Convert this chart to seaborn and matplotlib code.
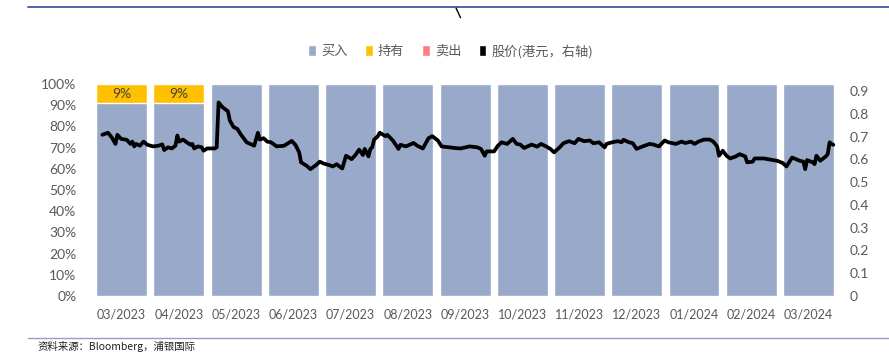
import pandas as pd
import seaborn as sns
import matplotlib.pyplot as plt
from matplotlib.patches import Patch
from matplotlib.lines import Line2D

sns.set_theme(style="white")
plt.rcParams['font.family'] = ['Lato', 'Noto Sans CJK SC', 'DejaVu Sans']

# Rating mix per month
months = ["03/2023", "04/2023", "05/2023", "06/2023", "07/2023", "08/2023", "09/2023",
          "10/2023", "11/2023", "12/2023", "01/2024", "02/2024", "03/2024"]
buy = [0.91, 0.91, 1, 1, 1, 1, 1, 1, 1, 1, 1, 1, 1]
hold = [0.09, 0.09, 0, 0, 0, 0, 0, 0, 0, 0, 0, 0, 0]
sell = [0, 0, 0, 0, 0, 0, 0, 0, 0, 0, 0, 0, 0]

# Share price (HKD)
price_dates = [
    "2023-03-06", "2023-03-09", "2023-03-11", "2023-03-13", "2023-03-14", "2023-03-16", "2023-03-19",
    "2023-03-21", "2023-03-22", "2023-03-23", "2023-03-24", "2023-03-26", "2023-03-28", "2023-03-30",
    "2023-04-02", "2023-04-05", "2023-04-07", "2023-04-08", "2023-04-10", "2023-04-12", "2023-04-14",
    "2023-04-15", "2023-04-16", "2023-04-18", "2023-04-20", "2023-04-22", "2023-04-23", "2023-04-24",
    "2023-04-26", "2023-04-28", "2023-04-29", "2023-05-01", "2023-05-05", "2023-05-06", "2023-05-07",
    "2023-05-09", "2023-05-12", "2023-05-13", "2023-05-15", "2023-05-17", "2023-05-19", "2023-05-22",
    "2023-05-25", "2023-05-26", "2023-05-28", "2023-05-29", "2023-05-31", "2023-06-02", "2023-06-04",
    "2023-06-07", "2023-06-11", "2023-06-15", "2023-06-17", "2023-06-19", "2023-06-20", "2023-06-23",
    "2023-06-25", "2023-06-28", "2023-06-30", "2023-07-02", "2023-07-05", "2023-07-07", "2023-07-09",
    "2023-07-10", "2023-07-12", "2023-07-14", "2023-07-17", "2023-07-19", "2023-07-21", "2023-07-23",
    "2023-07-24", "2023-07-26", "2023-07-27", "2023-07-28", "2023-07-29", "2023-07-31", "2023-08-01",
    "2023-08-04", "2023-08-05", "2023-08-08", "2023-08-11", "2023-08-12", "2023-08-15", "2023-08-19",
    "2023-08-21", "2023-08-24", "2023-08-27", "2023-08-29", "2023-09-01", "2023-09-03", "2023-09-07",
    "2023-09-10", "2023-09-13", "2023-09-18", "2023-09-22", "2023-09-24", "2023-09-26", "2023-09-27",
    "2023-10-01", "2023-10-03", "2023-10-05", "2023-10-08", "2023-10-11", "2023-10-13", "2023-10-15",
    "2023-10-17", "2023-10-21", "2023-10-24", "2023-10-26", "2023-10-29", "2023-10-31", "2023-11-02",
    "2023-11-05", "2023-11-07", "2023-11-10", "2023-11-13", "2023-11-15", "2023-11-18", "2023-11-21",
    "2023-11-23", "2023-11-26", "2023-11-29", "2023-11-30", "2023-12-03", "2023-12-06", "2023-12-08",
    "2023-12-09", "2023-12-12", "2023-12-14", "2023-12-16", "2023-12-19", "2023-12-23", "2023-12-25",
    "2023-12-28", "2023-12-31", "2024-01-02", "2024-01-06", "2024-01-09", "2024-01-11", "2024-01-14",
    "2024-01-16", "2024-01-18", "2024-01-21", "2024-01-24", "2024-01-26", "2024-01-28", "2024-01-29",
    "2024-01-31", "2024-02-02", "2024-02-04", "2024-02-07", "2024-02-09", "2024-02-12", "2024-02-13",
    "2024-02-16", "2024-02-17", "2024-02-22", "2024-02-26", "2024-02-29", "2024-03-03", "2024-03-05",
    "2024-03-08", "2024-03-10", "2024-03-12", "2024-03-14", "2024-03-15", "2024-03-16", "2024-03-19",
    "2024-03-20", "2024-03-21", "2024-03-23", "2024-03-26", "2024-03-27", "2024-03-28", "2024-03-29",
    "2024-03-30",
]
price = [
    0.708, 0.717, 0.697, 0.668, 0.708, 0.690, 0.686,
    0.668, 0.678, 0.657, 0.668, 0.660, 0.678, 0.664,
    0.657, 0.660, 0.666, 0.641, 0.653, 0.648, 0.660,
    0.705, 0.678, 0.687, 0.675, 0.664, 0.668, 0.648,
    0.657, 0.653, 0.638, 0.648, 0.648, 0.653, 0.850,
    0.830, 0.811, 0.771, 0.742, 0.734, 0.708, 0.675,
    0.664, 0.660, 0.717, 0.687, 0.693, 0.678, 0.675,
    0.657, 0.660, 0.681, 0.664, 0.631, 0.587, 0.572,
    0.557, 0.575, 0.590, 0.582, 0.575, 0.569, 0.579,
    0.572, 0.560, 0.616, 0.601, 0.619, 0.643, 0.619,
    0.646, 0.613, 0.646, 0.653, 0.687, 0.702, 0.717,
    0.702, 0.708, 0.683, 0.646, 0.664, 0.657, 0.672,
    0.660, 0.648, 0.693, 0.702, 0.683, 0.657, 0.653,
    0.650, 0.648, 0.657, 0.653, 0.646, 0.616, 0.635,
    0.635, 0.660, 0.675, 0.668, 0.690, 0.668, 0.665,
    0.650, 0.665, 0.656, 0.668, 0.656, 0.646, 0.631,
    0.653, 0.671, 0.680, 0.671, 0.690, 0.680, 0.683,
    0.671, 0.675, 0.653, 0.668, 0.675, 0.680, 0.675,
    0.686, 0.675, 0.671, 0.646, 0.656, 0.668, 0.665,
    0.657, 0.683, 0.675, 0.668, 0.678, 0.672, 0.678,
    0.668, 0.678, 0.687, 0.687, 0.678, 0.657, 0.616,
    0.638, 0.616, 0.604, 0.613, 0.623, 0.613, 0.587,
    0.590, 0.604, 0.604, 0.598, 0.594, 0.584, 0.569,
    0.608, 0.601, 0.594, 0.590, 0.557, 0.597, 0.587,
    0.579, 0.616, 0.594, 0.613, 0.623, 0.675, 0.668,
    0.664,
]

c_buy = "#98A9CA"
c_hold = "#FFC000"
c_sell = "#FF7C80"
grey = "#595959"

df = pd.DataFrame({"month": months, "buy": buy, "hold": hold, "sell": sell})
df["buy_hold"] = df["buy"] + df["hold"]
df["total"] = df["buy_hold"] + df["sell"]

# price on the month category axis
p = pd.DataFrame({"date": pd.to_datetime(price_dates), "price": price})
start = pd.Timestamp("2023-03-01")
span = (pd.Timestamp("2024-04-01") - start).days
p["pos"] = (p["date"] - start).dt.days / span * len(months) - 0.5

fig = plt.figure(figsize=(8.89, 3.53), dpi=100)
ax = fig.add_axes([0.1046, 0.1615, 0.837, 0.6005])

# stacked bars: draw cumulative totals back to front
sns.barplot(data=df, x="month", y="total", color=c_sell, width=0.89, saturation=1, ax=ax)
sns.barplot(data=df, x="month", y="buy_hold", color=c_hold, width=0.89, saturation=1, ax=ax)
sns.barplot(data=df, x="month", y="buy", color=c_buy, width=0.89, saturation=1, ax=ax)

for i, h in enumerate(hold):
    if h > 0:
        ax.text(i, buy[i] + h / 2, f"{h:.0%}", ha="center", va="center", fontsize=10, color="#404040")

ax.set_xlim(-0.5, len(months) - 0.5)
ax.set_ylim(0, 1)
ax.set_yticks([i / 10 for i in range(11)])
ax.set_yticklabels([f"{i * 10}%" for i in range(11)])
ax.set_xlabel("")
ax.set_ylabel("")
ax.tick_params(axis="y", colors=grey, labelsize=10, pad=12, length=0)
ax.tick_params(axis="x", colors=grey, labelsize=9, pad=9, length=0)
for s in ax.spines.values():
    s.set_visible(False)

ax2 = ax.twinx()
sns.lineplot(data=p, x="pos", y="price", color="black", linewidth=2.7, ax=ax2)
ax2.set_ylim(0, 0.931)
ax2.set_yticks([i / 10 for i in range(10)])
ax2.set_yticklabels(["0"] + [f"{i / 10:.1f}" for i in range(1, 10)])
ax2.set_xlabel("")
ax2.set_ylabel("")
ax2.tick_params(axis="y", colors=grey, labelsize=10, pad=9, length=0)
for s in ax2.spines.values():
    s.set_visible(False)
ax.set_xlim(-0.5, len(months) - 0.5)

handles = [
    Patch(facecolor=c_buy, label="买入"),
    Patch(facecolor=c_hold, label="持有"),
    Patch(facecolor=c_sell, label="卖出"),
    Patch(facecolor="black", label="股价(港元，右轴)"),
]
fig.legend(handles=handles, loc="center", bbox_to_anchor=(0.507, 0.855), ncol=4, frameon=False,
           handlelength=0.6, handleheight=0.9, handletextpad=0.4, columnspacing=1.3,
           prop={"family": ["Noto Sans CJK SC"], "size": 9.5}, labelcolor=grey)

# page rules and source note
fig.add_artist(Line2D([0.031, 1.0], [0.980, 0.980], color="#4A66A8", linewidth=1.4))
fig.add_artist(Line2D([0.513, 0.518], [0.977, 0.950], color="black", linewidth=1.0))
fig.add_artist(Line2D([0.031, 1.0], [0.043, 0.043], color="#9A9ACC", linewidth=1.0))
fig.text(0.042, 0.018, "资料来源：Bloomberg，浦银国际", fontsize=7.5, color="#202020",
         family=["Noto Sans CJK SC"], va="center")

fig.savefig("out.png", dpi=100)
